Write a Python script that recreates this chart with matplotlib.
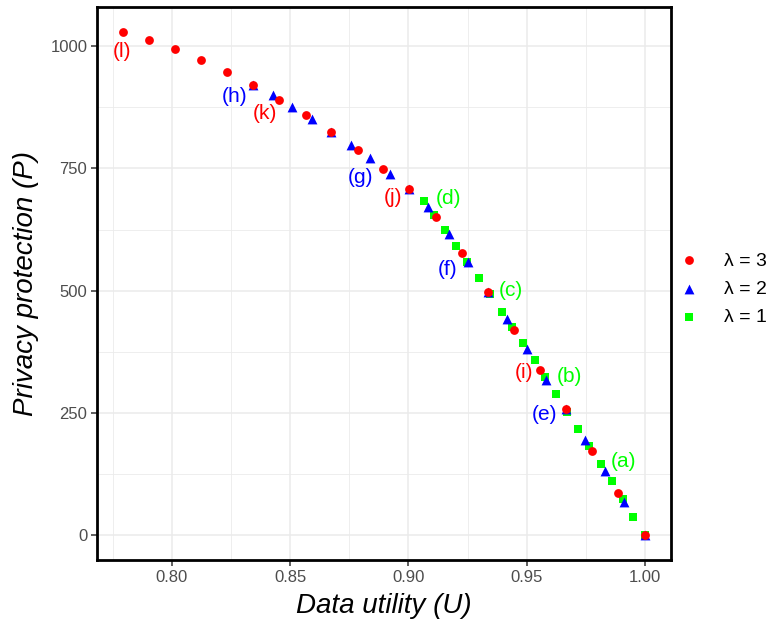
import matplotlib
matplotlib.use("Agg")
import matplotlib.pyplot as plt
from matplotlib.ticker import MultipleLocator, FormatStrFormatter

plt.rcParams['font.family'] = ['Liberation Sans', 'DejaVu Sans']

# lambda = 3 (red circles)
u3 = [0.7794, 0.7904, 0.8014, 0.8124, 0.8234, 0.8344, 0.8455, 0.8567, 0.8675, 0.8786,
      0.8893, 0.9003, 0.9115, 0.9226, 0.9336, 0.9446, 0.9557, 0.9666, 0.9777, 0.9885, 1.0]
p3 = [1029, 1012, 994, 971, 948, 920, 891, 859, 825, 788,
      748, 707, 651, 576, 498, 419, 337, 257, 171, 86, 0]

# lambda = 2 (blue triangles)
u2 = [0.8344, 0.8426, 0.8510, 0.8592, 0.8675, 0.8756, 0.8837, 0.8922, 0.9003, 0.9085,
      0.9170, 0.9252, 0.9336, 0.9416, 0.9500, 0.9581, 0.9666, 0.9748, 0.9832, 0.9912, 1.0]
p2 = [920, 900, 876, 852, 825, 799, 771, 739, 707, 671,
      616, 559, 498, 442, 380, 318, 257, 195, 131, 67, 0]

# lambda = 1 (green squares)
u1 = [0.9064, 0.9109, 0.9156, 0.9202, 0.9249, 0.9297, 0.9345, 0.9394, 0.9439, 0.9486,
      0.9534, 0.9577, 0.9624, 0.9672, 0.9718, 0.9765, 0.9813, 0.9859, 0.9906, 0.9950, 1.0]
p1 = [684, 655, 625, 591, 559, 526, 492, 457, 426, 392,
      358, 324, 288, 251, 217, 181, 145, 110, 73, 36, 0]

# point labels
red_labels = ['(l)', '(k)', '(j)', '(i)']
red_lab_u = [0.7790, 0.8393, 0.8936, 0.9488]
red_lab_p = [989, 862, 691, 333]
blue_labels = ['(h)', '(g)', '(f)', '(e)']
blue_lab_u = [0.8266, 0.8798, 0.9164, 0.9574]
blue_lab_p = [897, 732, 544, 246]
green_labels = ['(d)', '(c)', '(b)', '(a)']
green_lab_u = [0.9171, 0.9432, 0.9680, 0.9911]
green_lab_p = [688, 500, 325, 150]

RED, BLUE, GREEN = '#FF0000', '#0000FF', '#00FF00'

fig = plt.figure(figsize=(7.76, 6.30), dpi=100)
ax = fig.add_axes([97/776, 1-560/630, (671-97)/776, (560-7)/630])

ax.scatter(u1, p1, marker='s', s=38, color=GREEN, linewidths=0, zorder=3, label='λ = 1')
ax.scatter(u2, p2, marker='^', s=50, color=BLUE, linewidths=0, zorder=4, label='λ = 2')
ax.scatter(u3, p3, marker='o', s=40, color=RED, linewidths=0, zorder=5, label='λ = 3')

for labs, us, ps, c in [(red_labels, red_lab_u, red_lab_p, RED),
                        (blue_labels, blue_lab_u, blue_lab_p, BLUE),
                        (green_labels, green_lab_u, green_lab_p, GREEN)]:
    for t, u, p in zip(labs, us, ps):
        ax.text(u, p, t, color=c, fontsize=15, ha='center', va='center', zorder=6)

ax.margins(x=0.05, y=0.05)
ax.xaxis.set_major_locator(MultipleLocator(0.05))
ax.xaxis.set_minor_locator(MultipleLocator(0.025))
ax.yaxis.set_major_locator(MultipleLocator(250))
ax.yaxis.set_minor_locator(MultipleLocator(125))
ax.xaxis.set_major_formatter(FormatStrFormatter('%.2f'))
ax.yaxis.set_major_formatter(FormatStrFormatter('%d'))

ax.grid(True, which='major', color='#EBEBEB', linewidth=1.1, zorder=0)
ax.grid(True, which='minor', color='#EBEBEB', linewidth=0.6, zorder=0)
ax.set_axisbelow(True)
ax.tick_params(which='minor', length=0)
ax.tick_params(which='major', length=4, width=1.1, color='#333333',
               labelsize=12, labelcolor='#4D4D4D', pad=3)
for s in ax.spines.values():
    s.set_color('black')
    s.set_linewidth(2)

ax.set_xlabel('Data utility (U)', fontsize=20, style='italic', labelpad=6)
ax.set_ylabel('Privacy protection (P)', fontsize=20, style='italic', labelpad=8)

h, l = ax.get_legend_handles_labels()
order = [2, 1, 0]
ax.legend([h[i] for i in order], [l[i] for i in order], loc='center left',
          bbox_to_anchor=(0.998, 0.49), frameon=False, fontsize=14,
          handlelength=1.2, handletextpad=1.2, labelspacing=0.55, borderaxespad=0.0)

fig.savefig('out.png', dpi=100)
